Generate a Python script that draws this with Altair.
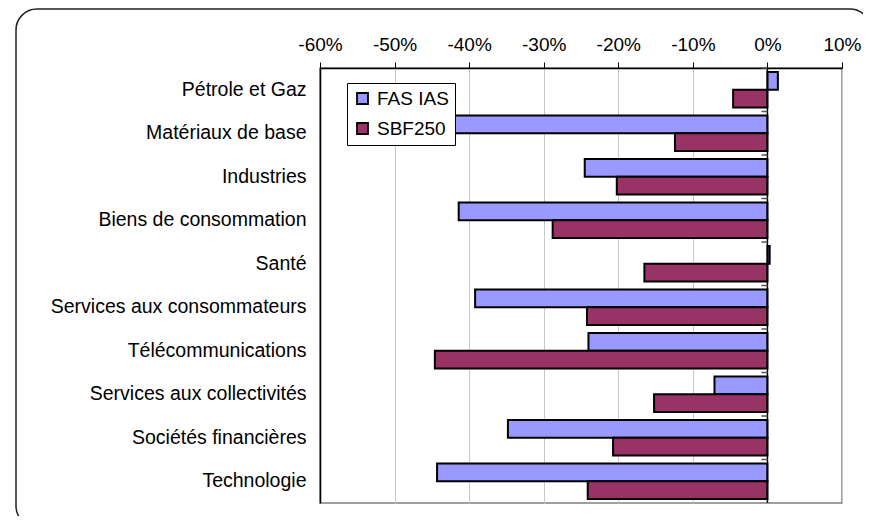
import altair as alt
import pandas as pd

categories = [
    "Pétrole et Gaz",
    "Matériaux de base",
    "Industries",
    "Biens de consommation",
    "Santé",
    "Services aux consommateurs",
    "Télécommunications",
    "Services aux collectivités",
    "Sociétés financières",
    "Technologie",
]
series_names = ["FAS IAS", "SBF250"]
fas_ias = [1.4, -45.0, -24.5, -41.4, 0.3, -39.2, -24.0, -7.1, -34.8, -44.3]
sbf250 = [-4.6, -12.4, -20.2, -28.8, -16.5, -24.2, -44.6, -15.2, -20.7, -24.1]
x_ticks = [-60, -50, -40, -30, -20, -10, 0, 10]
colors = ["#9999FF", "#993366"]

rows = []
for c, a, b in zip(categories, fas_ias, sbf250):
    rows.append({"category": c, "series": series_names[0], "value": a})
    rows.append({"category": c, "series": series_names[1], "value": b})
df = pd.DataFrame(rows)
cat_df = pd.DataFrame({"category": categories})
one = pd.DataFrame({"a": [0]})

FONT = "Liberation Sans"
x_scale = alt.Scale(domain=[-60, 10], nice=False, zero=False)
y_scale = alt.Scale(domain=categories, paddingInner=0, paddingOuter=0)

frame = alt.Chart(one).mark_rect(
    fillOpacity=0, stroke="#222222", strokeWidth=1.5, cornerRadius=21, clip=False
).encode(
    x=alt.value(-304), x2=alt.value(551), y=alt.value(-59), y2=alt.value(459)
)

bars = alt.Chart(df).mark_bar(stroke="black", strokeWidth=2).encode(
    x=alt.X(
        "value:Q",
        scale=x_scale,
        axis=alt.Axis(
            orient="top",
            values=x_ticks,
            labelExpr="datum.value + '%'",
            title=None,
            grid=True,
            gridColor="#c8c8c8",
            gridWidth=1,
            domainColor="black",
            domainWidth=1.5,
            tickColor="black",
            tickSize=6,
            tickWidth=1,
            labelFontSize=19,
            labelFont=FONT,
            labelColor="black",
            labelPadding=8,
            labelFlush=False,
            labelOverlap=False,
        ),
    ),
    x2=alt.datum(0),
    y=alt.Y(
        "category:N",
        scale=y_scale,
        sort=categories,
        axis=alt.Axis(
            title=None,
            ticks=False,
            grid=False,
            domainColor="black",
            domainWidth=1.5,
            labelFontSize=19.5,
            labelFont=FONT,
            labelColor="black",
            labelPadding=14,
            labelLimit=400,
        ),
    ),
    yOffset=alt.YOffset(
        "series:N", sort=series_names,
        scale=alt.Scale(domain=series_names, paddingOuter=0.229, paddingInner=0),
    ),
    color=alt.Color(
        "series:N",
        scale=alt.Scale(domain=series_names, range=colors),
        legend=alt.Legend(
            title=None,
            orient="none",
            legendX=27,
            legendY=15,
            fillColor="white",
            strokeColor="black",
            padding=6,
            rowPadding=10,
            symbolType="square",
            symbolSize=121,
            symbolStrokeColor="black",
            symbolStrokeWidth=1.8,
            symbolOpacity=1,
            labelFontSize=19,
            labelFont=FONT,
            labelColor="black",
            labelOffset=5,
            labelLimit=300,
        ),
    ),
)

zero_line = alt.Chart(one).mark_rule(color="black", strokeWidth=1.5).encode(
    x=alt.datum(0, scale=x_scale)
)

cat_ticks = alt.Chart(cat_df).mark_rule(color="#555555", strokeWidth=1.5).encode(
    y=alt.Y("category:N", bandPosition=0, sort=categories, scale=y_scale),
    x=alt.datum(-0.8),
    x2=alt.datum(0),
)

chart = alt.layer(frame, bars, zero_line, cat_ticks).properties(
    width=522,
    height=435,
    autosize=alt.AutoSizeParams(type="none"),
    padding={"left": 312, "top": 60, "right": 21, "bottom": 13},
    background="white",
).configure_view(stroke="#808080", strokeWidth=1.5)

chart.save("out.html", embed_options={"renderer": "svg", "actions": False})
